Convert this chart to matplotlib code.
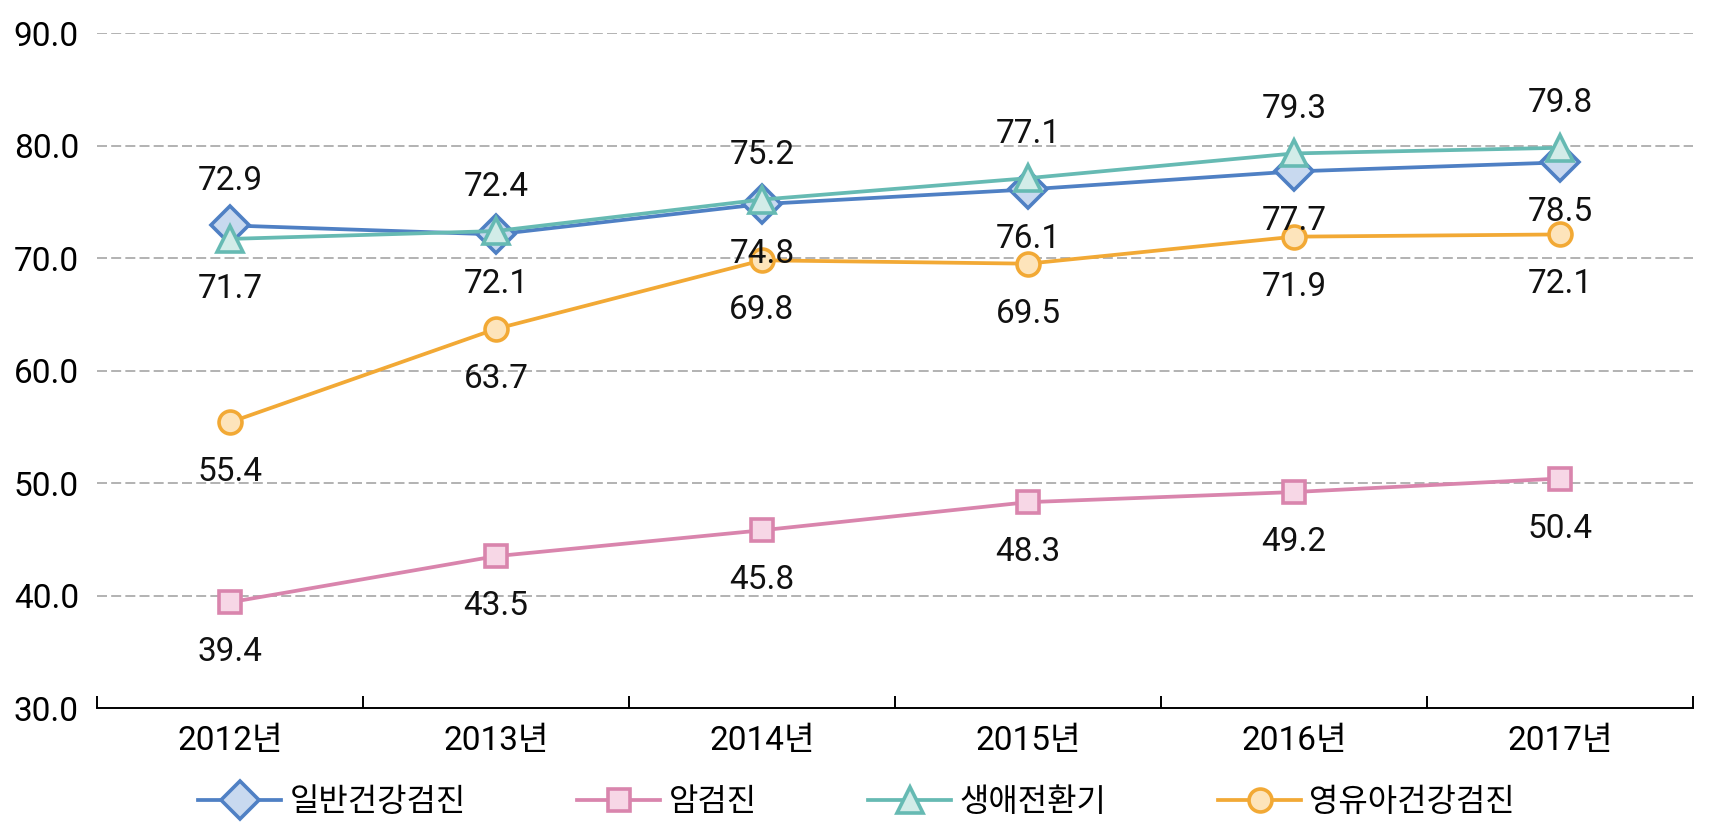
import numpy as np
import matplotlib.pyplot as plt

years = ["2012년", "2013년", "2014년", "2015년", "2016년", "2017년"]
series_names = ["일반건강검진", "암검진", "생애전환기", "영유아건강검진"]
general = [72.9, 72.1, 74.8, 76.1, 77.7, 78.5]
cancer = [39.4, 43.5, 45.8, 48.3, 49.2, 50.4]
transition = [71.7, 72.4, 75.2, 77.1, 79.3, 79.8]
infant = [55.4, 63.7, 69.8, 69.5, 71.9, 72.1]

plt.rcParams['font.family'] = ['Roboto', 'Noto Sans CJK KR', 'DejaVu Sans']

fig = plt.figure(figsize=(17.13, 8.39), dpi=100)
ax = fig.add_axes([0.0566, 0.1561, 0.9317, 0.8045])

x = np.arange(len(years))

styles = [
    (general, "#4f80c4", "#c8d9ef", "D", 19),
    (cancer, "#d985ad", "#f7d7e6", "s", 16.5),
    (transition, "#66bab3", "#d2ece8", "^", 19),
    (infant, "#f2a935", "#fde4bb", "o", 16.5),
]
z = [3, 3, 4, 3]
for (vals, col, fill, mk, ms), name, zz in zip(styles, series_names, z):
    ax.plot(x, vals, color=col, lw=2.7, marker=mk, markersize=ms,
            markerfacecolor=fill, markeredgecolor=col, markeredgewidth=2.6,
            label=name, zorder=zz, clip_on=False)

# data labels
def put(vals, above):
    for i, v in enumerate(vals):
        dy = 32 if above[i] else -36
        ax.annotate(f"{v:.1f}", (x[i], v), xytext=(0, dy), textcoords="offset points",
                    ha="center", va="center", fontsize=24, color="#111111")

put(general, [True, False, False, False, False, False])
put(transition, [False, True, True, True, True, True])
put(infant, [False] * 6)
put(cancer, [False] * 6)

ax.set_xlim(-0.5, 5.5)
ax.set_ylim(30, 90)
ax.set_yticks(np.arange(30, 91, 10))
ax.set_yticklabels([f"{v:.1f}" for v in np.arange(30, 91, 10)], fontsize=24)
ax.set_xticks(x)
ax.set_xticklabels(years, fontsize=24)
ax.tick_params(axis='x', which='major', length=0, pad=12)
ax.tick_params(axis='y', length=0, pad=13)
ax.set_xticks(np.arange(-0.5, 6, 1), minor=True)
ax.tick_params(axis='x', which='minor', direction='in', length=9, width=1.4, color='black')

for v in range(40, 91, 10):
    ax.axhline(v, color="#a6a6a6", lw=1.2, ls=(0, (6, 2.5)), zorder=1)

for s in ['top', 'right', 'left']:
    ax.spines[s].set_visible(False)
ax.spines['bottom'].set_linewidth(1.4)

fig.legend(loc='center', bbox_to_anchor=(0.5, 0.044), ncol=4, frameon=False,
           fontsize=23, handlelength=2.6, columnspacing=3.5, handletextpad=0.25)

fig.savefig("out.png", dpi=100)
